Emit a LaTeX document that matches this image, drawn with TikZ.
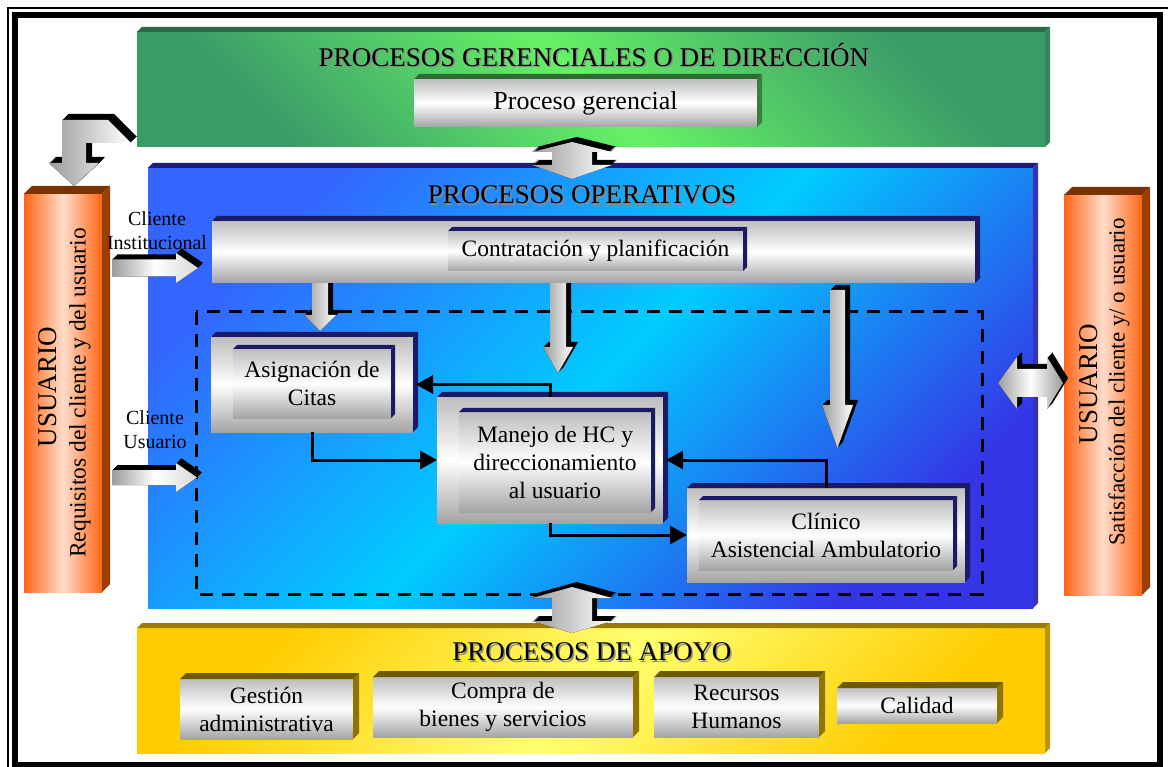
\documentclass[tikz,border=0pt]{standalone}
\usepackage{fontspec}
\setmainfont{Liberation Serif}
\usetikzlibrary{arrows.meta}

\definecolor{grnlight}{HTML}{66F266}
\definecolor{grndark}{HTML}{3A9A68}
\definecolor{grntop}{HTML}{2A6A48}
\definecolor{grnside}{HTML}{35885C}
\definecolor{bluecorner}{HTML}{3366FF}
\definecolor{bluecorner2}{HTML}{3535E6}
\definecolor{bluecyan}{HTML}{00CCFF}
\definecolor{bluetop}{HTML}{1E1E78}
\definecolor{blueside}{HTML}{3333BB}
\definecolor{navy}{HTML}{1A1A66}
\definecolor{yelgold}{HTML}{FFCC00}
\definecolor{yellight}{HTML}{FFFF70}
\definecolor{yeltop}{HTML}{9A7B00}
\definecolor{yelside}{HTML}{B8960A}
\definecolor{boxolive}{HTML}{6E5A00}
\definecolor{boxoliveside}{HTML}{8F7400}
\definecolor{orng}{HTML}{FF6614}
\definecolor{orngpale}{HTML}{FFDCCB}
\definecolor{orngtop}{HTML}{7A3300}
\definecolor{orngside}{HTML}{993D00}
\definecolor{pgtop}{HTML}{2F6B34}
\definecolor{pgside}{HTML}{3B7F3F}
\definecolor{facetop}{HTML}{BEBEBE}
\definecolor{facebot}{HTML}{A4A4A4}
\definecolor{arrowgray}{HTML}{9C9C9C}
\definecolor{arrowlight}{HTML}{D8D8D8}
\definecolor{titleshadow}{HTML}{8A8A8A}

% top and right faces of a raised slab, drawn from a rectangular node
\newcommand{\extrude}[4]{%
  \fill[#3] (#1.north west) -- ++(#2,-#2) -- ([shift={(#2,-#2)}]#1.north east) -- (#1.north east) -- cycle;
  \fill[#4] (#1.north east) -- ([shift={(#2,-#2)}]#1.north east) -- ([shift={(#2,-#2)}]#1.south east) -- (#1.south east) -- cycle;}

% block arrow with a black extruded body behind its shaded face
\newcommand{\blockarrow}[3]{%
  \foreach \k in {1,...,#2}{\fill[black,shift={(\k,-\k)}] #1;}
  \fill[#3] #1;}

% heading with a soft grey drop shadow
\newcommand{\shadowtitle}[4]{%
  \node[title,text=titleshadow] (#1s) at ({#2+1.5},{#3+1.5}) {#4};
  \node[title] (#1) at (#2,#3) {#4};}

\begin{document}
\begin{tikzpicture}[x=1pt,y=-1pt,
  every node/.style={inner sep=0pt,outer sep=0pt},
  grayface/.style={top color=facetop,bottom color=facebot,middle color=white},
  vface/.style={left color=arrowgray,right color=white},
  hface/.style={left color=arrowgray,right color=arrowlight,middle color=white},
  dface/.style={left color=arrowgray,right color=arrowgray,middle color=white},
  title/.style={font=\fontsize{27}{30}\selectfont},
  boxtxt/.style={font=\fontsize{23.5}{28}\selectfont,align=center},
  lbl/.style={font=\fontsize{20}{24}\selectfont,align=center},
  conn/.style={line width=3pt,-{Triangle[length=17pt,width=18pt]}},
  dashbox/.style={line width=3pt,dash pattern=on 13pt off 9pt}]

\useasboundingbox (0,0) rectangle (1168,767);
\fill[white] (0,0) rectangle (1168,767);

% frame
\draw[line width=2pt] (8,767) -- (8,8) -- (1168,8);
\draw[line width=6pt] (15,15) rectangle (1159.5,764.5);

% process bands
\node[minimum width=908pt,minimum height=115pt,top color=grndark,bottom color=grndark,
      middle color=grnlight,shading angle=-45] (ger) at (591,89.5) {};
\extrude{ger}{5}{grntop}{grnside}
\node[minimum width=885pt,minimum height=440pt,top color=bluecorner,bottom color=bluecorner2,
      middle color=bluecyan,shading angle=45] (ope) at (590.5,388) {};
\extrude{ope}{5}{bluetop}{blueside}
\node[minimum width=908pt,minimum height=125pt,top color=yelgold,bottom color=yelgold,
      middle color=yellight,shading angle=45] (apo) at (591,690.5) {};
\extrude{apo}{5}{yeltop}{yelside}

% user bars
\node[minimum width=78pt,minimum height=398pt,left color=orng,right color=orng,
      middle color=orngpale] (usl) at (63,393) {};
\extrude{usl}{8}{orngtop}{orngside}
\node[minimum width=78pt,minimum height=400pt,left color=orng,right color=orng,
      middle color=orngpale] (usr) at (1103,395) {};
\extrude{usr}{8}{orngtop}{orngside}
\node[rotate=90,font=\fontsize{27}{30}\selectfont] (usl1) at (48,387) {USUARIO};
\node[rotate=90,font=\fontsize{23.5}{28}\selectfont] (usl2) at (80,393) {Requisitos del cliente y del usuario};
\node[rotate=90,font=\fontsize{27}{30}\selectfont] (usr1) at (1089,384) {USUARIO};
\node[rotate=90,font=\fontsize{23}{28}\selectfont] (usr2) at (1119,382) {Satisfacción del cliente y/ o usuario};

% headings
\shadowtitle{tger}{594}{55}{PROCESOS GERENCIALES O DE DIRECCIÓN}
\shadowtitle{tope}{582}{195}{PROCESOS OPERATIVOS}
\shadowtitle{tapo}{592}{652}{PROCESOS DE APOYO}

% boundary of the care processes
\draw[dashbox] (196,312) rectangle (982,594);

% block arrows
\blockarrow{(62,120) -- (108,120) -- (131,143) -- (86,143) -- (86,163) -- (99,163) -- (74,186) -- (49,163) -- (62,163) -- cycle}{6}{vface}
\blockarrow{(572,142) -- (612,152) -- (592,152) -- (592,165) -- (612,165) -- (572,179) -- (532,165) -- (552,165) -- (552,152) -- (532,152) -- cycle}{5}{vface}
\blockarrow{(572,587) -- (612,598) -- (592,598) -- (592,621) -- (612,621) -- (572,633) -- (532,621) -- (552,621) -- (552,598) -- (532,598) -- cycle}{5}{vface}
\blockarrow{(998,383) -- (1017,357) -- (1017,369) -- (1047,369) -- (1047,357) -- (1063,383) -- (1047,409) -- (1047,397) -- (1017,397) -- (1017,409) -- cycle}{5}{dface}
\blockarrow{(112,259.5) -- (176,259.5) -- (176,253) -- (198,268) -- (176,283) -- (176,276.5) -- (112,276.5) -- cycle}{5}{hface}
\blockarrow{(112,470) -- (176,470) -- (176,463) -- (197,477.5) -- (176,492) -- (176,485) -- (112,485) -- cycle}{5}{hface}
\blockarrow{(312,283) -- (328,283) -- (328,315) -- (336,315) -- (320,331) -- (304,315) -- (312,315) -- cycle}{5}{vface}
\blockarrow{(550,283) -- (566,283) -- (566,347) -- (573,347) -- (558,373) -- (543,347) -- (550,347) -- cycle}{5}{vface}
\blockarrow{(830,290) -- (845,290) -- (845,405) -- (853,405) -- (837.5,448) -- (822,405) -- (830,405) -- cycle}{5}{vface}

\node[lbl] (cinst) at (157,231) {Cliente\\Institucional};
\node[lbl] (cusu) at (155,430) {Cliente\\Usuario};

% management box
\node[grayface,font=\fontsize{26}{30}\selectfont,minimum width=343pt,minimum height=48pt] (pg) at (585.5,103) {Proceso gerencial};
\extrude{pg}{5}{pgtop}{pgside}

% operative boxes
\node[grayface,minimum width=763pt,minimum height=62pt] (co) at (593.5,252) {};
\extrude{co}{5}{navy}{navy}
\node[grayface,boxtxt,minimum width=295pt,minimum height=40pt] (ci) at (595.5,251) {Contratación y planificación};
\extrude{ci}{4}{navy}{navy}

\node[grayface,minimum width=202pt,minimum height=95pt] (ao) at (312,384.5) {};
\extrude{ao}{5}{navy}{navy}
\node[grayface,boxtxt,minimum width=158pt,minimum height=69pt] (ai) at (312,383.5) {Asignación de\\Citas};
\extrude{ai}{4}{navy}{navy}

\node[grayface,minimum width=226pt,minimum height=126pt] (mo) at (550,460) {};
\extrude{mo}{5}{navy}{navy}
\node[grayface,boxtxt,minimum width=192pt,minimum height=100pt] (mi) at (555,462) {Manejo de HC y\\direccionamiento\\al usuario};
\extrude{mi}{4}{navy}{navy}

\node[grayface,minimum width=278pt,minimum height=94pt] (clo) at (826,535) {};
\extrude{clo}{5}{navy}{navy}
\node[grayface,boxtxt,minimum width=254pt,minimum height=70pt] (cli) at (826,535) {Clínico\\Asistencial Ambulatorio};
\extrude{cli}{4}{navy}{navy}

% flow between the care processes
\draw[conn] (mo.north) |- ([xshift=3pt]ao.east);
\draw[conn] (ao.south) |- (mo.west);
\draw[conn] (clo.north) |- ([xshift=3pt]mo.east);
\draw[conn] (mo.south) |- (clo.west);

% support boxes
\node[grayface,boxtxt,minimum width=173pt,minimum height=60pt] (gs) at (266.5,709) {Gestión\\administrativa};
\extrude{gs}{6}{boxolive}{boxoliveside}
\node[grayface,boxtxt,minimum width=260pt,minimum height=60pt] (cp) at (503,707) {Compra de\\bienes y servicios};
\extrude{cp}{6}{boxolive}{boxoliveside}
\node[grayface,boxtxt,minimum width=165pt,minimum height=60pt] (rh) at (736.5,707) {Recursos\\Humanos};
\extrude{rh}{6}{boxolive}{boxoliveside}
\node[grayface,boxtxt,minimum width=160pt,minimum height=35pt] (cal) at (917,705.5) {Calidad};
\extrude{cal}{6}{boxolive}{boxoliveside}

\end{tikzpicture}
\end{document}
